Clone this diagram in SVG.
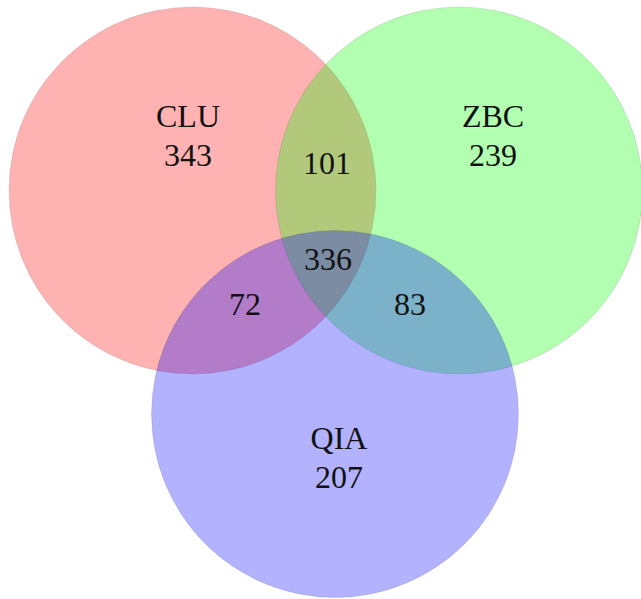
<svg xmlns="http://www.w3.org/2000/svg" width="641" height="599" viewBox="0 0 641 599">
<style>
.set{stroke:#000;stroke-opacity:0.1;stroke-width:1}
.red{fill:#ff0000;fill-opacity:0.3}
.green{fill:#00ff00;fill-opacity:0.3}
.blue{fill:#0000ff;fill-opacity:0.3}
text{font-family:"Liberation Serif","Times New Roman",serif;font-size:32px;fill:#111;text-anchor:middle}
</style>
<rect width="641" height="599" fill="#ffffff"/>
<g id="CLU">
<circle class="set red" cx="192.5" cy="190.5" r="183.5"/>
</g>
<g id="ZBC">
<circle class="set green" cx="459" cy="190.5" r="183.5"/>
</g>
<g id="QIA">
<circle class="set blue" cx="335" cy="414" r="183.5"/>
</g>
<g id="labels">
<text x="188" y="127">CLU</text>
<text x="188" y="166">343</text>
<text x="493" y="127">ZBC</text>
<text x="493" y="166">239</text>
<text x="327" y="174">101</text>
<text x="328" y="270">336</text>
<text x="245" y="315">72</text>
<text x="410" y="315">83</text>
<text x="339" y="449">QIA</text>
<text x="339" y="488">207</text>
</g>
<g id="connectors"></g>
</svg>
